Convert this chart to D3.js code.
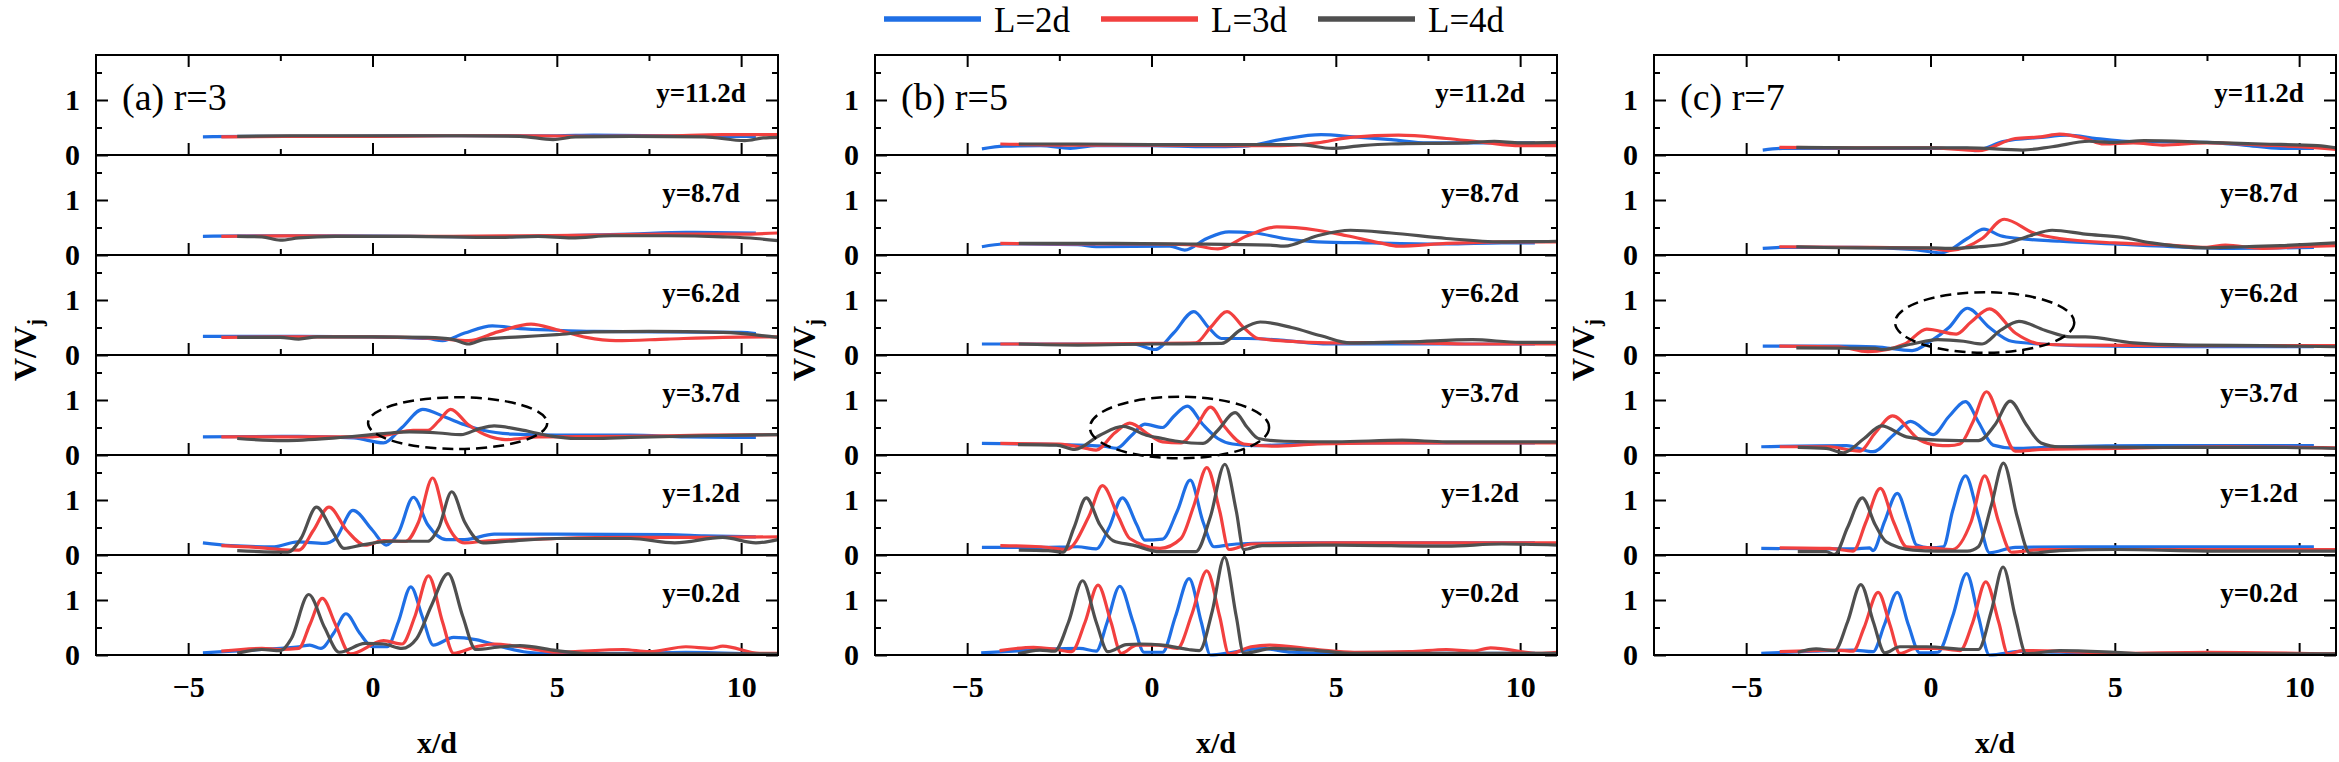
<!DOCTYPE html>
<html>
<head>
<meta charset="utf-8">
<script src="https://cdn.jsdelivr.net/npm/d3@7"></script>
<style>
body { margin:0; background:#fff; }
text { font-family: "Liberation Serif", "Times New Roman", serif; }
</style>
</head>
<body>
<svg id="chart" width="2339" height="762"></svg>
<script>
// ---- labels / ticks ----
var seriesNames = ["L=2d", "L=3d", "L=4d"]
var panelTitles = ["(a) r=3", "(b) r=5", "(c) r=7"]
var rowLabels = ["y=11.2d", "y=8.7d", "y=6.2d", "y=3.7d", "y=1.2d", "y=0.2d"]
var xTicksMajor = [-5, 0, 5, 10]
var xTicksMinor = [-2.5, 2.5, 7.5]
var yTicksMajor = [0, 1]
var yTicksMinor = [0.5, 1.5]

// dashed ellipses: panel, row, centre and radii in data units
var ellPanel = [0, 1, 2]
var ellRow = [3, 3, 2]
var ellCx = [2.31, 0.76, 1.47]
var ellCy = [0.58, 0.50, 0.59]
var ellRx = [2.43, 2.43, 2.43]
var ellRy = [0.47, 0.56, 0.55]

// ---- (a) r=3 : [x/d, V/Vj] ----
var a_y11_L2 = [[-4.6,0.33],[-3,0.34],[-1,0.34],[1,0.35],[3,0.35],[5,0.35],[6,0.36],[8,0.35],[9.5,0.34],[10.4,0.34]]
var a_y11_L3 = [[-4.1,0.33],[-2,0.34],[0,0.34],[2,0.35],[4,0.35],[6,0.34],[8,0.35],[9.5,0.37],[11,0.37]]
var a_y11_L4 = [[-3.67,0.34],[-2,0.35],[0,0.35],[2,0.35],[4,0.34],[4.9,0.28],[5.5,0.33],[7,0.34],[9,0.33],[10.1,0.26],[10.6,0.31],[11,0.32]]

var a_y8_L2 = [[-4.6,0.34],[-3,0.35],[-1,0.35],[1,0.34],[3,0.33],[5,0.35],[7,0.38],[8.5,0.41],[10.4,0.40]]
var a_y8_L3 = [[-4.1,0.34],[-2,0.35],[0,0.34],[2,0.34],[4,0.35],[6,0.36],[8,0.38],[10,0.38],[11,0.40]]
var a_y8_L4 = [[-3.67,0.34],[-3,0.33],[-2.5,0.27],[-2,0.31],[-1,0.34],[1,0.34],[3.3,0.32],[4.5,0.34],[5.4,0.31],[6.5,0.35],[8,0.35],[9.5,0.33],[10.4,0.30],[11,0.26]]

var a_y6_L2 = [[-4.6,0.34],[-2,0.34],[0,0.33],[1.5,0.30],[1.9,0.26],[2.5,0.40],[3.25,0.53],[4,0.48],[5,0.45],[6,0.43],[8,0.42],[10,0.41],[10.4,0.39]]
var a_y6_L3 = [[-4.1,0.32],[-2,0.33],[0,0.33],[1.8,0.30],[2.6,0.26],[3.4,0.42],[4.3,0.56],[5,0.46],[5.8,0.32],[6.6,0.26],[8,0.29],[9.5,0.32],[11,0.33]]
var a_y6_L4 = [[-3.67,0.32],[-2.5,0.32],[-2,0.29],[-1.5,0.33],[0,0.33],[1.5,0.32],[2.2,0.28],[2.6,0.20],[3.0,0.28],[4,0.33],[5,0.37],[6,0.42],[7.5,0.43],[9.5,0.41],[11,0.32]]

var a_y3_L2 = [[-4.6,0.33],[-2,0.34],[-0.5,0.31],[0.3,0.22],[0.8,0.50],[1.36,0.83],[2.0,0.68],[2.5,0.55],[3,0.45],[3.8,0.38],[5,0.36],[7,0.36],[8.5,0.33],[10.4,0.32]]
var a_y3_L3 = [[-4.1,0.33],[-2,0.33],[0,0.33],[0.5,0.38],[1.1,0.45],[1.5,0.45],[1.8,0.62],[2.12,0.83],[2.6,0.55],[3.2,0.33],[3.6,0.28],[4.5,0.33],[7,0.34],[9,0.36],[11,0.37]]
var a_y3_L4 = [[-3.67,0.30],[-2.4,0.26],[-1,0.31],[0.3,0.39],[1.0,0.42],[1.8,0.40],[2.4,0.37],[2.9,0.48],[3.3,0.53],[4,0.46],[4.8,0.35],[5.5,0.30],[6,0.30],[7,0.32],[9,0.35],[11,0.37]]

var a_y1_L2 = [[-4.6,0.22],[-3.84,0.17],[-2.67,0.15],[-2.03,0.24],[-1.31,0.21],[-1.0,0.30],[-0.53,0.81],[0,0.45],[0.37,0.18],[0.7,0.40],[1.11,1.05],[1.5,0.55],[2,0.28],[2.5,0.28],[3.3,0.38],[5,0.38],[8,0.37],[9,0.35],[10.4,0.33]]
var a_y1_L3 = [[-4.1,0.17],[-3,0.13],[-2.5,0.10],[-2.0,0.09],[-1.6,0.45],[-1.18,0.87],[-0.7,0.45],[-0.2,0.18],[0.3,0.26],[0.9,0.25],[1.25,0.60],[1.63,1.40],[2.0,0.60],[2.5,0.22],[3,0.25],[5,0.30],[7,0.32],[9,0.32],[11,0.33]]
var a_y1_L4 = [[-3.67,0.08],[-2.3,0.05],[-1.94,0.30],[-1.52,0.87],[-1.1,0.45],[-0.77,0.12],[-0.3,0.18],[0.5,0.25],[1.5,0.25],[1.8,0.50],[2.15,1.15],[2.5,0.60],[3,0.22],[3.7,0.25],[5,0.30],[7,0.30],[8.2,0.22],[9.5,0.32],[10.4,0.22],[11,0.28]]

var a_y0_L2 = [[-4.6,0.04],[-3,0.10],[-2,0.15],[-1.7,0.18],[-1.4,0.12],[-1.05,0.40],[-0.72,0.75],[-0.35,0.40],[0,0.15],[0.4,0.15],[0.7,0.60],[1.04,1.24],[1.35,0.70],[1.65,0.18],[2.2,0.32],[2.8,0.28],[3.5,0.15],[4.2,0.05],[5,0.02],[7,0.03],[8.5,0.05],[10.4,0.02]]
var a_y0_L3 = [[-4.1,0.07],[-3,0.12],[-2.5,0.10],[-2.0,0.12],[-1.7,0.55],[-1.36,1.03],[-1.0,0.55],[-0.6,0.02],[0.3,0.26],[0.8,0.20],[1.15,0.70],[1.52,1.44],[1.9,0.60],[2.2,0.03],[2.8,0.15],[3.3,0.20],[4,0.15],[5,0.05],[6.8,0.10],[7.5,0.06],[8.5,0.15],[9.2,0.12],[9.5,0.16],[10.5,0.03],[11,0.03]]
var a_y0_L4 = [[-3.67,0.03],[-3,0.10],[-2.5,0.08],[-2.2,0.30],[-1.73,1.10],[-1.3,0.50],[-0.9,0.05],[-0.2,0.21],[0.3,0.20],[0.8,0.12],[1.2,0.30],[1.6,0.90],[2.05,1.48],[2.45,0.70],[2.8,0.10],[3.5,0.15],[4,0.17],[5,0.08],[6,0.02],[8,0.02],[11,0.02]]

// ---- (b) r=5 ----
var b_y11_L2 = [[-4.6,0.11],[-4,0.16],[-3,0.17],[-2.2,0.12],[-1.5,0.17],[0,0.17],[1.5,0.15],[2.5,0.16],[3.5,0.28],[4.6,0.37],[5.5,0.33],[6.5,0.28],[7.5,0.22],[9,0.22],[10.4,0.22]]
var b_y11_L3 = [[-4.1,0.20],[-2,0.18],[0,0.18],[2,0.17],[3.5,0.17],[4.5,0.22],[5.4,0.32],[6.7,0.36],[8,0.30],[9,0.23],[10,0.17],[11,0.17]]
var b_y11_L4 = [[-3.6,0.20],[-2,0.20],[0,0.19],[2,0.19],[4,0.19],[4.9,0.12],[5.7,0.17],[6.5,0.20],[8.5,0.22],[9.3,0.25],[10,0.22],[11,0.23]]

var b_y8_L2 = [[-4.6,0.15],[-4,0.20],[-2,0.19],[-1.5,0.15],[0.5,0.16],[0.9,0.09],[1.5,0.30],[2.1,0.42],[2.8,0.40],[3.6,0.30],[4.5,0.24],[6,0.22],[8,0.20],[9.5,0.22],[10.4,0.22]]
var b_y8_L3 = [[-4.1,0.21],[-2,0.20],[0,0.20],[1,0.19],[1.8,0.11],[2.6,0.35],[3.4,0.51],[4.5,0.45],[5.3,0.35],[6.2,0.22],[6.7,0.16],[8,0.21],[9.5,0.24],[11,0.24]]
var b_y8_L4 = [[-3.6,0.21],[-1,0.21],[1,0.20],[3.2,0.18],[3.6,0.16],[4.5,0.35],[5.4,0.45],[6.5,0.40],[8,0.30],[9.5,0.24],[11,0.25]]

var b_y6_L2 = [[-4.6,0.20],[-2,0.20],[-0.5,0.20],[0.1,0.10],[0.6,0.40],[1.15,0.79],[1.55,0.50],[1.9,0.30],[2.6,0.30],[3.5,0.27],[4.8,0.20],[7,0.20],[10.4,0.20]]
var b_y6_L3 = [[-4.1,0.20],[-2,0.20],[0,0.21],[1.2,0.22],[1.6,0.50],[2.05,0.79],[2.5,0.50],[2.9,0.30],[4,0.24],[5,0.22],[6.5,0.23],[8.5,0.20],[11,0.20]]
var b_y6_L4 = [[-3.6,0.20],[-2,0.18],[0,0.20],[1.9,0.21],[2.4,0.45],[2.95,0.60],[3.8,0.50],[4.6,0.35],[5.4,0.22],[7,0.24],[8.7,0.28],[10,0.23],[11,0.23]]

var b_y3_L2 = [[-4.6,0.21],[-2.6,0.19],[-1.3,0.16],[-0.95,0.12],[-0.55,0.35],[-0.18,0.56],[0.3,0.50],[0.6,0.70],[0.97,0.89],[1.4,0.55],[1.8,0.30],[2.2,0.20],[2.8,0.17],[4,0.20],[6,0.22],[10.4,0.22]]
var b_y3_L3 = [[-4.1,0.21],[-2.5,0.20],[-1.77,0.12],[-1.5,0.09],[-1.0,0.40],[-0.59,0.58],[-0.05,0.36],[0.3,0.24],[0.8,0.22],[1.2,0.50],[1.6,0.87],[2.0,0.50],[2.5,0.20],[3.3,0.16],[4.5,0.20],[7,0.22],[11,0.22]]
var b_y3_L4 = [[-3.62,0.19],[-2.58,0.18],[-2.08,0.10],[-1.4,0.36],[-0.77,0.52],[-0.14,0.36],[0.3,0.30],[0.7,0.25],[1.4,0.21],[1.8,0.45],[2.27,0.77],[2.6,0.50],[2.9,0.30],[3.6,0.25],[5,0.24],[6.8,0.27],[8,0.24],[11,0.24]]

var b_y1_L2 = [[-4.6,0.14],[-3,0.14],[-2,0.15],[-1.5,0.11],[-1.15,0.50],[-0.79,1.04],[-0.4,0.55],[-0.18,0.27],[0.3,0.29],[0.7,0.80],[1.05,1.36],[1.4,0.60],[1.7,0.15],[2.3,0.20],[4,0.22],[7,0.22],[10.4,0.22]]
var b_y1_L3 = [[-4.1,0.17],[-3,0.15],[-2.3,0.10],[-1.7,0.70],[-1.33,1.26],[-0.9,0.70],[-0.59,0.30],[0.23,0.12],[0.8,0.30],[1.15,0.90],[1.5,1.59],[1.85,0.80],[2.1,0.10],[2.7,0.20],[5,0.22],[8,0.22],[11,0.22]]
var b_y1_L4 = [[-3.6,0.09],[-2.8,0.08],[-2.4,0.05],[-2.1,0.50],[-1.77,1.04],[-1.4,0.55],[-1.04,0.26],[-0.5,0.18],[0.23,0.06],[1.2,0.06],[1.6,0.70],[1.99,1.65],[2.3,0.80],[2.5,0.10],[3,0.17],[5,0.18],[8,0.16],[9.5,0.20],[11,0.18]]

var b_y0_L2 = [[-4.62,0.04],[-3.5,0.08],[-2.58,0.11],[-1.95,0.12],[-1.5,0.07],[-1.2,0.60],[-0.86,1.25],[-0.5,0.60],[-0.2,0.05],[0.3,0.05],[0.65,0.70],[1.02,1.39],[1.35,0.60],[1.6,0.00],[2.2,0.05],[3,0.12],[3.8,0.05],[5,0.03],[10.4,0.03]]
var b_y0_L3 = [[-4.12,0.08],[-3.2,0.14],[-2.58,0.10],[-2.17,0.06],[-1.8,0.60],[-1.45,1.27],[-1.1,0.60],[-0.82,0.03],[-0.4,0.18],[0.2,0.18],[0.7,0.12],[1.1,0.75],[1.5,1.53],[1.85,0.70],[2.1,0.02],[2.7,0.15],[3.2,0.18],[4.5,0.10],[5.5,0.05],[7,0.06],[8,0.10],[8.7,0.07],[9.2,0.13],[10.5,0.03],[11,0.05]]
var b_y0_L4 = [[-3.62,0.02],[-3.03,0.09],[-2.63,0.07],[-2.25,0.60],[-1.87,1.35],[-1.5,0.60],[-1.18,0.06],[-0.68,0.19],[-0.3,0.20],[0.3,0.18],[1.0,0.10],[1.3,0.08],[1.65,0.80],[1.98,1.78],[2.3,0.70],[2.5,0.03],[3.3,0.12],[4.5,0.08],[5.5,0.03],[11,0.03]]

// ---- (c) r=7 ----
var c_y11_L2 = [[-4.55,0.09],[-4,0.12],[-1,0.12],[1,0.12],[1.2,0.08],[2,0.25],[3,0.32],[3.7,0.36],[4.5,0.30],[5.3,0.25],[7.5,0.23],[8.5,0.18],[9.5,0.12],[10.4,0.12]]
var c_y11_L3 = [[-4.1,0.14],[-2,0.13],[0,0.13],[1.3,0.08],[2.3,0.30],[3,0.33],[3.5,0.38],[4.2,0.30],[4.7,0.20],[5.5,0.22],[6.3,0.18],[7.5,0.22],[9,0.18],[10,0.15],[11,0.10]]
var c_y11_L4 = [[-3.64,0.14],[-2,0.13],[0,0.13],[1,0.13],[2.5,0.09],[3.3,0.15],[4.3,0.25],[5,0.23],[5.8,0.26],[7.5,0.23],[9,0.20],[10.5,0.17],[11,0.13]]

var c_y8_L2 = [[-4.55,0.12],[-4,0.14],[-2,0.14],[-0.5,0.10],[0.3,0.04],[1.0,0.30],[1.45,0.47],[1.9,0.35],[2.4,0.30],[3.5,0.25],[5,0.20],[7,0.14],[8,0.12],[10.4,0.14]]
var c_y8_L3 = [[-4.1,0.15],[-2,0.14],[0,0.12],[0.5,0.08],[1.4,0.30],[2.0,0.65],[2.8,0.40],[3.5,0.30],[5,0.22],[6.5,0.18],[7.5,0.14],[8,0.18],[9,0.12],[10,0.15],[11,0.17]]
var c_y8_L4 = [[-3.64,0.15],[-2,0.13],[0,0.13],[0.5,0.12],[1.3,0.15],[2,0.20],[2.7,0.35],[3.3,0.45],[4.2,0.38],[5.2,0.32],[6,0.22],[7.5,0.13],[8.5,0.15],[9.5,0.17],[11,0.22]]

var c_y6_L2 = [[-4.55,0.16],[-2.5,0.16],[-1.5,0.15],[-0.5,0.08],[0,0.25],[0.5,0.50],[1.0,0.85],[1.6,0.50],[2.2,0.25],[3,0.20],[4,0.17],[7,0.15],[10.4,0.15]]
var c_y6_L3 = [[-4.1,0.16],[-2.5,0.15],[-1.7,0.06],[-0.7,0.20],[-0.1,0.47],[0.7,0.38],[1.1,0.60],[1.6,0.84],[2.3,0.40],[3,0.20],[4,0.18],[7,0.17],[11,0.17]]
var c_y6_L4 = [[-3.64,0.13],[-1.5,0.12],[-1.3,0.10],[-0.5,0.20],[0.2,0.28],[0.9,0.25],[1.4,0.20],[1.9,0.45],[2.4,0.61],[3.1,0.45],[3.8,0.33],[4.2,0.33],[5.5,0.22],[7,0.18],[9,0.17],[11,0.15]]

var c_y3_L2 = [[-4.59,0.15],[-2.28,0.17],[-1.56,0.06],[-1.01,0.36],[-0.54,0.61],[0.07,0.37],[0.5,0.70],[0.95,0.97],[1.3,0.60],[1.7,0.18],[2.3,0.12],[3.5,0.15],[6,0.17],[10.4,0.17]]
var c_y3_L3 = [[-4.09,0.15],[-2.73,0.15],[-2.19,0.09],[-1.92,0.07],[-1.5,0.40],[-1.03,0.71],[-0.29,0.27],[0.16,0.18],[0.5,0.17],[0.8,0.20],[1.15,0.60],[1.52,1.15],[1.9,0.60],[2.3,0.07],[3,0.10],[5,0.12],[8,0.15],[11,0.13]]
var c_y3_L4 = [[-3.6,0.14],[-2.83,0.12],[-2.37,0.04],[-1.8,0.30],[-1.33,0.53],[-0.65,0.33],[0.25,0.27],[1.3,0.26],[1.75,0.55],[2.16,0.98],[2.6,0.55],[3,0.22],[3.5,0.15],[6,0.14],[9,0.14],[11,0.12]]

var c_y1_L2 = [[-4.59,0.12],[-2.1,0.11],[-1.65,0.13],[-1.56,0.08],[-1.25,0.60],[-0.9,1.12],[-0.6,0.60],[-0.38,0.18],[-0.02,0.13],[0.35,0.15],[0.6,0.80],[0.95,1.44],[1.3,0.70],[1.6,0.04],[2.3,0.14],[4,0.15],[10.4,0.15]]
var c_y1_L3 = [[-4.09,0.13],[-2.73,0.12],[-2.1,0.07],[-1.75,0.60],[-1.36,1.21],[-1.0,0.60],[-0.65,0.15],[0,0.13],[0.6,0.10],[1.1,0.60],[1.47,1.44],[1.85,0.60],[2.2,0.05],[3,0.10],[6,0.10],[11,0.10]]
var c_y1_L4 = [[-3.6,0.06],[-2.83,0.06],[-2.6,0.01],[-2.25,0.50],[-1.85,1.04],[-1.5,0.55],[-1.2,0.24],[-0.47,0.09],[0.2,0.07],[1,0.07],[1.3,0.15],[1.65,0.90],[1.98,1.67],[2.35,0.70],[2.7,0.03],[3.5,0.08],[5,0.10],[8,0.07],[11,0.07]]

var c_y0_L2 = [[-4.59,0.03],[-3.19,0.07],[-2.1,0.09],[-1.56,0.06],[-1.25,0.55],[-0.9,1.14],[-0.6,0.55],[-0.29,0.04],[0.2,0.05],[0.6,0.70],[0.98,1.48],[1.3,0.70],[1.6,0.00],[2.5,0.07],[3.5,0.05],[5,0.02],[10.4,0.02]]
var c_y0_L3 = [[-4.09,0.06],[-2.55,0.09],[-2.1,0.07],[-1.8,0.50],[-1.42,1.14],[-1.1,0.55],[-0.83,0.03],[-0.4,0.12],[0.2,0.12],[0.8,0.08],[1.15,0.60],[1.5,1.33],[1.85,0.60],[2.1,0.02],[2.5,0.08],[3.5,0.07],[5,0.03],[7.5,0.05],[11,0.02]]
var c_y0_L4 = [[-3.6,0.05],[-3.1,0.11],[-2.6,0.08],[-2.25,0.60],[-1.89,1.28],[-1.55,0.60],[-1.24,0.04],[-0.83,0.15],[-0.1,0.15],[1,0.10],[1.3,0.10],[1.65,0.80],[1.97,1.60],[2.3,0.70],[2.6,0.02],[3.5,0.08],[5,0.05],[6,0.02],[11,0.02]]

// panel -> row -> [L2, L3, L4]
var curves = [
    [[a_y11_L2,a_y11_L3,a_y11_L4],[a_y8_L2,a_y8_L3,a_y8_L4],[a_y6_L2,a_y6_L3,a_y6_L4],
     [a_y3_L2,a_y3_L3,a_y3_L4],[a_y1_L2,a_y1_L3,a_y1_L4],[a_y0_L2,a_y0_L3,a_y0_L4]],
    [[b_y11_L2,b_y11_L3,b_y11_L4],[b_y8_L2,b_y8_L3,b_y8_L4],[b_y6_L2,b_y6_L3,b_y6_L4],
     [b_y3_L2,b_y3_L3,b_y3_L4],[b_y1_L2,b_y1_L3,b_y1_L4],[b_y0_L2,b_y0_L3,b_y0_L4]],
    [[c_y11_L2,c_y11_L3,c_y11_L4],[c_y8_L2,c_y8_L3,c_y8_L4],[c_y6_L2,c_y6_L3,c_y6_L4],
     [c_y3_L2,c_y3_L3,c_y3_L4],[c_y1_L2,c_y1_L3,c_y1_L4],[c_y0_L2,c_y0_L3,c_y0_L4]]
];

var svg = d3.select("#chart");

var panelLeft = [96, 875, 1654];
var panelWidth = 682;
var rowHeight = 100;
var margin = {top:55};

var color = d3.scaleOrdinal()
    .domain(seriesNames)
    .range(["#1f6fe5", "#f2403f", "#4f4f4f"]);

var xScale = d3.scaleLinear().domain([-7.5, 11]).range([0, panelWidth]);
var yScale = d3.scaleLinear().domain([0, 1.818]).range([rowHeight, 0]);

var line = d3.line()
    .x(d => xScale(d[0]))
    .y(d => yScale(d[1]))
    .curve(d3.curveMonotoneX);

var styleAxis = function(g) {
    g.select(".domain").remove();
    g.selectAll(".tick line").attr("stroke", "#000").attr("stroke-width", 2);
    g.attr("font-family", null).attr("font-size", null);
    g.selectAll("text")
        .style("font-family", "'Liberation Serif', 'Times New Roman', serif")
        .style("font-weight", "bold")
        .style("font-size", "30px")
        .attr("fill", "#000");
};

var drawRow = function(panel, p, r) {
    var row = panel.append("g").attr("transform", "translate(0," + (r * rowHeight) + ")");

    // bottom ticks, inward
    row.append("g").attr("transform", "translate(0," + rowHeight + ")")
        .call(d3.axisBottom(xScale).tickValues(xTicksMajor).tickSizeInner(-12).tickSizeOuter(0)
            .tickPadding(21).tickFormat(r == 5 ? d3.format("d") : ""))
        .call(styleAxis);
    row.append("g").attr("transform", "translate(0," + rowHeight + ")")
        .call(d3.axisBottom(xScale).tickValues(xTicksMinor).tickSizeInner(-6).tickSizeOuter(0).tickFormat(""))
        .call(styleAxis);
    if (r == 0) {
        row.append("g")
            .call(d3.axisTop(xScale).tickValues(xTicksMajor).tickSizeInner(-12).tickSizeOuter(0).tickFormat(""))
            .call(styleAxis);
        row.append("g")
            .call(d3.axisTop(xScale).tickValues(xTicksMinor).tickSizeInner(-6).tickSizeOuter(0).tickFormat(""))
            .call(styleAxis);
    }

    // left ticks + labels
    row.append("g")
        .call(d3.axisLeft(yScale).tickValues(yTicksMajor).tickSizeInner(-12).tickSizeOuter(0).tickPadding(16).tickFormat(d3.format("d")))
        .call(styleAxis);
    row.append("g")
        .call(d3.axisLeft(yScale).tickValues(yTicksMinor).tickSizeInner(-6).tickSizeOuter(0).tickFormat(""))
        .call(styleAxis);
    // right ticks
    row.append("g").attr("transform", "translate(" + panelWidth + ",0)")
        .call(d3.axisRight(yScale).tickValues(yTicksMajor).tickSizeInner(-12).tickSizeOuter(0).tickFormat(""))
        .call(styleAxis);
    row.append("g").attr("transform", "translate(" + panelWidth + ",0)")
        .call(d3.axisRight(yScale).tickValues(yTicksMinor).tickSizeInner(-6).tickSizeOuter(0).tickFormat(""))
        .call(styleAxis);

    // curves
    row.selectAll("path.curve")
        .data(curves[p][r])
        .enter()
        .append("path")
            .attr("class", "curve")
            .attr("fill", "none")
            .attr("stroke", (d, i) => color(seriesNames[i]))
            .attr("stroke-width", 3.2)
            .attr("stroke-linejoin", "round")
            .attr("d", line);

    // dashed ellipse
    ellPanel.forEach(function(ep, k) {
        if (ep == p && ellRow[k] == r) {
            row.append("ellipse")
                .attr("cx", xScale(ellCx[k]))
                .attr("cy", yScale(ellCy[k]))
                .attr("rx", xScale(ellCx[k] + ellRx[k]) - xScale(ellCx[k]))
                .attr("ry", yScale(0) - yScale(ellRy[k]))
                .attr("fill", "none")
                .attr("stroke", "#000")
                .attr("stroke-width", 2.5)
                .attr("stroke-dasharray", "11,6");
        }
    });

    // frame
    row.append("rect")
        .attr("width", panelWidth).attr("height", rowHeight)
        .attr("fill", "none").attr("stroke", "#000").attr("stroke-width", 2);

    // row label
    row.append("text")
        .attr("x", panelWidth - 77)
        .attr("y", yScale(1) + 2)
        .attr("text-anchor", "middle")
        .style("font-weight", "bold")
        .style("font-size", "27px")
        .text(rowLabels[r]);
};

var drawPanel = function(p) {
    var panel = svg.append("g")
        .attr("transform", "translate(" + panelLeft[p] + "," + margin.top + ")");

    for (var r = 0; r < rowLabels.length; r++) drawRow(panel, p, r);

    panel.append("text")
        .attr("x", 26)
        .attr("y", 55)
        .style("font-size", "38px")
        .text(panelTitles[p]);

    // axis titles
    panel.append("text")
        .attr("x", panelWidth / 2)
        .attr("y", 698)
        .attr("text-anchor", "middle")
        .style("font-weight", "bold")
        .style("font-size", "30px")
        .text("x/d");

    var yt = panel.append("text")
        .attr("transform", "translate(-60,295) rotate(-90)")
        .attr("text-anchor", "middle")
        .style("font-weight", "bold")
        .style("font-size", "32px");
    yt.append("tspan").text("V/V");
    yt.append("tspan").attr("dy", "0.3em").style("font-size", "21px").text("j");
};

var drawLegend = function() {
    var item = svg.append("g").selectAll("g")
        .data(seriesNames)
        .enter()
        .append("g")
            .attr("transform", (d, i) => "translate(" + (884 + i * 217) + ",0)");
    item.append("line")
        .attr("x1", 0).attr("x2", 97)
        .attr("y1", 19).attr("y2", 19)
        .attr("stroke", d => color(d))
        .attr("stroke-width", 5.5);
    item.append("text")
        .attr("x", 110)
        .attr("y", 32)
        .style("font-size", "35px")
        .text(d => d);
};

var panelIds = [0, 1, 2];
panelIds.forEach(drawPanel);
drawLegend();
</script>
</body>
</html>
